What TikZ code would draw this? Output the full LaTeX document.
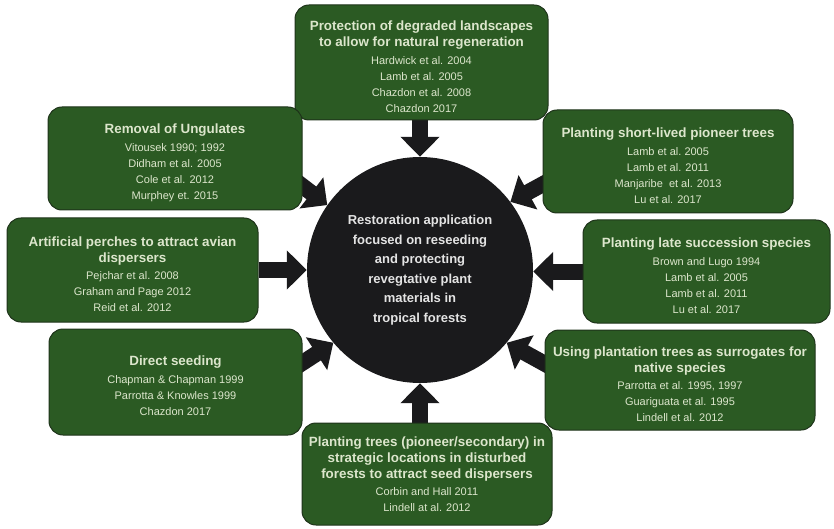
\documentclass[tikz,border=0pt]{standalone}
\usepackage{fontspec}
\setmainfont{Liberation Sans}
\usepackage{tikz}
\usetikzlibrary{positioning, calc, arrows.meta, backgrounds}

\definecolor{boxgreen}{HTML}{2B5A23}
\definecolor{boxedge}{HTML}{1E331A}
\definecolor{boxtext}{HTML}{DCE6CC}
\definecolor{coreblack}{HTML}{1A1A1C}
\definecolor{coretext}{HTML}{E4E4E4}

\tikzset{
    refbox/.style={draw=boxedge, line width=1pt, fill=boxgreen, rounded corners=14pt,
        text=boxtext, align=center, inner sep=2pt, font=\fontsize{11}{16}\selectfont},
    corecircle/.style={circle, fill=coreblack, text=coretext, align=center,
        minimum size=226pt, inner sep=0pt, font=\bfseries\fontsize{13}{19.5}\selectfont},
    fatarrow/.style={draw=coreblack, line width=16pt, -{Triangle[width=38pt,length=20pt]}}
}
\newcommand{\boxtitle}[1]{{\bfseries\fontsize{13.4}{17}\selectfont #1}}
% a taller first line pushes the text a little lower in its box
\newcommand{\firsttitle}[1]{\boxtitle{\rule{0pt}{18pt}#1}}

\begin{document}
\begin{tikzpicture}[x=1pt, y=-1pt]
        \useasboundingbox (0,0) rectangle (834,529);

        % 1. Central circle
        \node[corecircle] (core) at (420,270) {Restoration application\\focused on reseeding\\and protecting\\revegtative plant\\materials in\\tropical forests};

        % 2. Boxes round the circle, clockwise from the top
        \node[refbox, minimum width=253pt, minimum height=115pt] (protect) at (421.5,62.5)
            {\firsttitle{Protection of degraded landscapes}\\\boxtitle{to allow for natural regeneration}\\[2pt]Hardwick et al. 2004\\Lamb et al. 2005\\Chazdon et al. 2008\\Chazdon 2017};
        \node[refbox, minimum width=250pt, minimum height=103pt] (pioneer) at (668,161.5)
            {\firsttitle{Planting short-lived pioneer trees}\\[2pt]Lamb et al.\ 2005\\Lamb et al. 2011\\Manjaribe\ \ et al. 2013\\Lu et al. 2017};
        \node[refbox, minimum width=247pt, minimum height=103pt] (late) at (706.5,271.5)
            {\firsttitle{Planting late succession species}\\[2pt]Brown and Lugo 1994\\Lamb et al. 2005\\Lamb et al. 2011\\Lu et al. 2017};
        \node[refbox, minimum width=270pt, minimum height=100pt] (plantation) at (680,380)
            {\firsttitle{Using plantation trees as surrogates for}\\\boxtitle{native species}\\[1pt]Parrotta et al. 1995, 1997\\Guariguata et al. 1995\\Lindell et al. 2012};
        \node[refbox, minimum width=250pt, minimum height=102pt] (strategic) at (427,474)
            {\boxtitle{Planting trees (pioneer/secondary) in}\\\boxtitle{strategic locations in disturbed}\\\boxtitle{forests to attract seed dispersers}\\[1pt]Corbin and Hall 2011\\Lindell at al. 2012};
        \node[refbox, minimum width=253pt, minimum height=106pt] (seeding) at (175.5,382)
            {\firsttitle{Direct seeding}\\[2pt]Chapman \& Chapman 1999\\Parrotta \& Knowles 1999\\Chazdon 2017};
        \node[refbox, minimum width=251pt, minimum height=104pt] (perches) at (132.5,270)
            {\firsttitle{Artificial perches to attract avian}\\\boxtitle{dispersers}\\[1pt]Pejchar et al. 2008\\Graham and Page 2012\\Reid et al. 2012};
        \node[refbox, minimum width=254pt, minimum height=103pt] (ungulates) at (175,158.5)
            {\firsttitle{Removal of Ungulates}\\[2pt]Vitousek 1990; 1992\\Didham et al. 2005\\Cole et al. 2012\\Murphey et. 2015};

        % 3. Arrows into the circle, kept behind the boxes
        \begin{scope}[on background layer]
            \draw[fatarrow] (core.north |- protect.south) -- (core.north);
            \draw[fatarrow] ([xshift=8pt, yshift=-18.5pt]pioneer.west) -- (core.37);
            \draw[fatarrow] (late.west) -- (late.west -| core.east);
            \draw[fatarrow] ([xshift=8pt, yshift=12pt]plantation.west) -- (core.320);
            \draw[fatarrow] (core.south |- strategic.north) -- (core.south);
            \draw[fatarrow] ([xshift=-8pt, yshift=14pt]seeding.east) -- (core.220);
            \draw[fatarrow] (perches.east) -- (perches.east -| core.west);
            \draw[fatarrow] ([xshift=-8pt, yshift=-21.5pt]ungulates.east) -- (core.145);
        \end{scope}

    \end{tikzpicture}
\end{document}
